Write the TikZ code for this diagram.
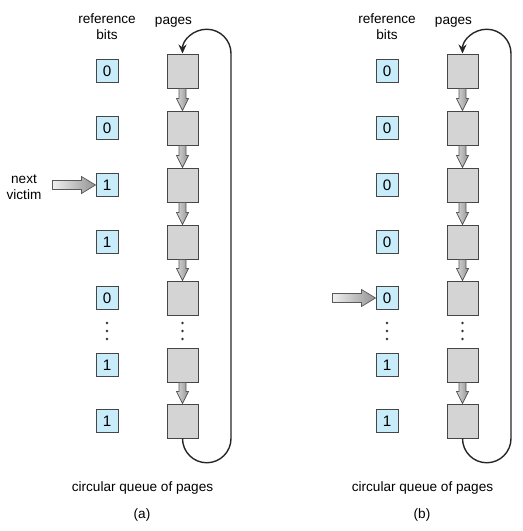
\documentclass[tikz,border=0pt]{standalone}
\usepackage{fontspec}
\setmainfont{Liberation Sans}
\usetikzlibrary{calc,arrows.meta}

\definecolor{bitblue}{RGB}{200,236,250}
\definecolor{pagegray}{RGB}{212,212,212}
\definecolor{edgegray}{RGB}{70,70,70}

% fat shaded arrow from one page to the next
\newcommand{\pagearrow}[2]{%
  \shadedraw[fatlink] ($(#1.south)+(-3.5,0)$) -- ($(#2.north)+(-3.5,12)$) -- ($(#2.north)+(-6,12)$)
    -- (#2.north) -- ($(#2.north)+(6,12)$) -- ($(#2.north)+(3.5,12)$) -- ($(#1.south)+(3.5,0)$) -- cycle;}
% fat shaded pointer to a reference bit
\newcommand{\victimarrow}[2]{%
  \shadedraw[fatpoint] ($(#1)+(0,4.5)$) -- ($(#2.west)+(-14,4.5)$) -- ($(#2.west)+(-14,8.5)$)
    -- (#2.west) -- ($(#2.west)+(-14,-8.5)$) -- ($(#2.west)+(-14,-4.5)$) -- ($(#1)+(0,-4.5)$) -- cycle;}

\begin{document}
\begin{tikzpicture}[x=0.5pt, y=0.5pt,
    every node/.style={font=\fontsize{6.8}{7.8}\selectfont, inner sep=0pt},
    bitbox/.style={draw=edgegray, fill=bitblue, line width=0.5pt, minimum width=11pt, minimum height=11.5pt,
        font=\fontsize{7.6}{8}\selectfont},
    pagebox/.style={draw=edgegray, fill=pagegray, line width=0.5pt, minimum width=15.5pt, minimum height=17pt},
    fatlink/.style={draw=black!65, line width=0.35pt, left color=gray!30, right color=gray!85},
    fatpoint/.style={draw=black!65, line width=0.35pt, left color=gray!12, right color=gray!85},
    queueloop/.style={line width=0.7pt, draw=black!85, -{Stealth[length=4.5pt,width=4pt]}}]
    \useasboundingbox (0,0) rectangle (523,-531);

    \foreach \p/\dx/\bits/\vrow in {a/0/{0,0,1,1,0,1,1}/3, b/280/{0,0,0,0,0,1,1}/5}{
        % reference bits and pages
        \foreach \b [count=\r] in \bits{
            \pgfmathsetmacro{\rowy}{{71,128,185,242,298,365,421}[\r-1]}
            \node[bitbox] (bit\p\r) at (107+\dx,-\rowy) {\b};
            \node[pagebox] (page\p\r) at (182.5+\dx,-\rowy) {};
        }
        \foreach \r/\s in {1/2,2/3,3/4,4/5,6/7}{
            \pagearrow{page\p\r}{page\p\s}
        }
        \foreach \y in {323,331,339}{
            \fill[black!80] (107+\dx,-\y) circle[radius=1.3];
            \fill[black!80] (182.5+\dx,-\y) circle[radius=1.3];
        }
        % circular queue
        \draw[queueloop] (page\p7.south) arc[start angle=180, end angle=360, radius=24.25]
            -- ($(page\p1.north)+(48.5,0)$) arc[start angle=0, end angle=180, radius=24.25];
        % clock hand
        \coordinate (tail\p) at ($(bit\p\vrow.west)+(-43,0)$);
        \victimarrow{tail\p}{bit\p\vrow}
        \node[align=center, anchor=north] (bitshead\p) at (107+\dx,-13.5) {reference\\bits};
        \node[anchor=base] (pageshead\p) at (173.5+\dx,-24.5) {pages};
        \node[anchor=base] (queuelabel\p) at (142.5+\dx,-491) {circular queue of pages};
        \node[anchor=base] (panel\p) at (142+\dx,-518) {(\p)};
    }
    \node[align=center, anchor=north] (victimlabel) at (24,-174.5) {next\\victim};
\end{tikzpicture}
\end{document}
